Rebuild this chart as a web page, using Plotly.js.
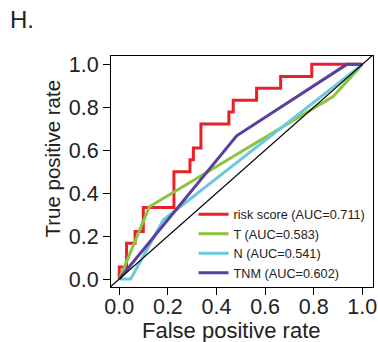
<!DOCTYPE html>
<html>
<head>
<meta charset="utf-8">
<script src="https://cdn.plot.ly/plotly-3.0.1.min.js"></script>
<style>html,body{margin:0;padding:0;background:#fff;}#chart{width:378px;height:342px;}</style>
</head>
<body>
<div id="chart"></div>
<script>
// ROC curve data
const riskFPR = [0, 0, 0.030, 0.030, 0.065, 0.065, 0.099, 0.099, 0.225, 0.225, 0.291, 0.291, 0.305, 0.305, 0.336, 0.336, 0.451, 0.451, 0.469, 0.469, 0.565, 0.565, 0.664, 0.664, 0.792, 0.792, 1.0];
const riskTPR = [0, 0.056, 0.056, 0.167, 0.167, 0.222, 0.222, 0.333, 0.333, 0.500, 0.500, 0.556, 0.556, 0.611, 0.611, 0.722, 0.722, 0.778, 0.778, 0.833, 0.833, 0.889, 0.889, 0.944, 0.944, 1.0, 1.0];
const tFPR = [0, 0.124, 0.88, 1.0];
const tTPR = [0, 0.337, 0.85, 1.0];
const nFPR = [0, 0.047, 0.181, 1.0];
const nTPR = [0, 0, 0.275, 1.0];
const tnmFPR = [0, 0.483, 0.936, 1.0];
const tnmTPR = [0, 0.667, 1.0, 1.0];
const diagX = [-0.05, 1.05];
const diagY = [-0.05, 1.05];
const seriesNames = ["risk score (AUC=0.711)", "T (AUC=0.583)", "N (AUC=0.541)", "TNM (AUC=0.602)"];
const tickVals = [0, 0.2, 0.4, 0.6, 0.8, 1.0];
const tickText = ["0.0", "0.2", "0.4", "0.6", "0.8", "1.0"];
const colors = ["#E8202A", "#8BC53F", "#6CC8DC", "#5A3F9E"];

const FONT = "Liberation Sans, Arial, Helvetica, sans-serif";
const xs = [riskFPR, tFPR, nFPR, tnmFPR];
const ys = [riskTPR, tTPR, nTPR, tnmTPR];
const traces = xs.map((x, i) => ({
  x: x, y: ys[i], type: "scatter", mode: "lines", name: seriesNames[i],
  legendgroup: "g" + i,
  line: {color: colors[i], width: 3}
}));
traces.push({x: diagX, y: diagY, type: "scatter", mode: "lines", showlegend: false,
  line: {color: "#000000", width: 1.2}, hoverinfo: "skip"});

const axisCommon = {
  showline: true, mirror: true, linecolor: "#000", linewidth: 1,
  ticks: "outside", ticklen: 7, tickcolor: "#000", tickwidth: 1,
  showgrid: false, zeroline: false,
  tickvals: tickVals, ticktext: tickText,
  tickfont: {family: FONT, size: 21.5, color: "#222"}
};

const layout = {
  width: 378, height: 342,
  margin: {l: 111, r: 5, t: 56, b: 55},
  paper_bgcolor: "#fff", plot_bgcolor: "#fff",
  showlegend: true,
  xaxis: Object.assign({}, axisCommon, {range: [-0.034, 1.044], ticklabelstandoff: -7}),
  yaxis: Object.assign({}, axisCommon, {range: [-0.037, 1.039]}),
  legend: {x: 0.315, y: 0.379, xanchor: "left", yanchor: "top",
    bgcolor: "rgba(0,0,0,0)", borderwidth: 0, tracegroupgap: 0,
    font: {family: FONT, size: 12.7, color: "#222"}},
  annotations: [
    {text: "H.", xref: "paper", yref: "paper", x: -0.393, y: 1.156, xanchor: "left", yanchor: "middle",
     showarrow: false, font: {family: FONT, size: 24, color: "#222"}},
    {text: "True positive rate", xref: "paper", yref: "paper", x: -0.227, y: 0.554, textangle: -90,
     xanchor: "center", yanchor: "middle", showarrow: false, font: {family: FONT, size: 20.5, color: "#222"}},
    {text: "False positive rate", xref: "paper", yref: "paper", x: 0.461, y: -0.19,
     xanchor: "center", yanchor: "middle", showarrow: false, font: {family: FONT, size: 22, color: "#222"}}
  ]
};

Plotly.newPlot("chart", traces, layout, {staticPlot: true, displayModeBar: false});
</script>
</body>
</html>
